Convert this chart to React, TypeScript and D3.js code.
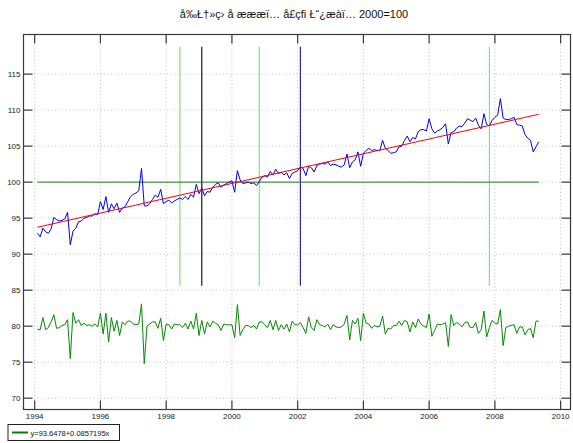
import React from "react";
import * as d3 from "d3";

const titleText = "å‰Ł†»ç› å æææï… å£çﬁ Ł“¿æàï… 2000=100";
const legendLabel = "y=93.6478+0.0857195x";
const trendIntercept = 93.6478;
const trendSlope = 0.0857195;
const startYear = 1994;
const startMonth = 1; // first observation: Feb 1994 (months after January)

const xTicks = [1994, 1996, 1998, 2000, 2002, 2004, 2006, 2008, 2010];
const yTicks = [70, 75, 80, 85, 90, 95, 100, 105, 110, 115];

// Index series (blue), monthly
const indexValues = [
  92.9, 92.4, 93.6, 93.1, 92.9, 93.5, 95.1, 94.8, 94.6, 94.7, 94.9, 95.8,
  91.3, 93.2, 93.6, 94.5, 94.6, 95.0, 95.1, 95.3, 95.3, 95.6, 95.5, 97.3,
  96.2, 98.0, 95.8, 97.0, 96.3, 97.1, 95.8, 96.4, 96.6, 97.3, 98.0, 98.3,
  98.5, 98.8, 101.9, 96.7, 96.7, 97.0, 97.6, 98.2, 97.9, 99.0, 97.0, 97.3,
  97.5, 97.1, 97.4, 97.6, 97.8, 97.6, 98.0, 97.6, 98.3, 97.9, 99.7, 98.4,
  99.2, 98.1, 98.7, 98.6, 99.3, 99.7, 99.9, 99.3, 99.6, 99.8, 100.0, 100.2,
  98.6, 101.6, 100.3, 99.8, 99.9, 100.0, 99.8, 99.9, 99.5, 100.1, 100.7, 100.9,
  100.7, 101.5, 101.0, 101.8, 101.2, 101.4, 101.0, 101.3, 100.5, 101.2, 101.4, 101.6,
  102.1, 101.9, 100.9, 102.2, 102.0, 101.4, 102.3, 102.5, 102.6, 102.5, 102.8, 102.3,
  102.5, 102.4, 102.2, 102.1, 102.4, 103.9, 102.0, 102.8, 103.1, 104.2, 102.2, 104.0,
  104.4, 104.7, 104.4, 104.5, 104.4, 104.4, 105.8, 104.7, 104.4, 104.0, 104.1, 104.2,
  104.9, 105.0, 105.8, 106.4, 105.6, 106.2, 106.0, 107.0, 107.3, 107.3, 107.1, 108.8,
  107.4, 106.8, 107.1, 107.3, 107.6, 108.1, 105.3, 106.9, 107.0, 107.5, 107.8, 107.7,
  108.2, 108.8, 108.6, 108.4, 108.9, 107.9, 107.4, 109.5, 108.0, 107.8, 108.6, 109.0,
  109.3, 111.6, 108.9, 108.7, 108.7, 108.8, 109.0, 108.0, 107.9, 107.8, 106.6, 106.1,
  105.8, 104.2, 104.9, 105.6,
];

// Month-to-month change shifted to 80 (green)
const changeValues = [
  79.6, 79.5, 81.2, 79.5, 79.8, 80.6, 81.6, 79.7, 79.8, 80.1, 80.2, 80.9,
  75.5, 81.9, 80.4, 80.9, 80.1, 80.4, 80.1, 80.2, 80.0, 80.3, 79.9, 81.8,
  78.9, 81.8, 77.8, 81.2, 79.3, 80.8, 78.7, 80.6, 80.2, 80.7, 80.7, 80.3,
  80.2, 80.3, 83.1, 74.8, 80.0, 80.3, 80.6, 80.6, 79.7, 81.1, 78.0, 80.3,
  80.2, 79.6, 80.3, 80.2, 80.2, 79.8, 80.4, 79.6, 80.7, 79.6, 81.8, 78.7,
  80.8, 78.9, 80.6, 79.9, 80.7, 80.4, 80.2, 79.4, 80.3, 80.2, 80.2, 80.2,
  78.4, 83.0, 78.7, 79.5, 80.1, 80.1, 79.8, 80.1, 79.6, 80.6, 80.6, 80.2,
  79.8, 80.8, 79.5, 80.8, 79.4, 80.2, 79.6, 80.3, 79.2, 80.7, 80.2, 80.2,
  80.5, 79.8, 79.0, 81.3, 79.8, 79.4, 80.9, 80.2, 80.1, 79.9, 80.3, 79.5,
  80.2, 79.9, 79.8, 79.9, 80.3, 81.5, 78.1, 80.8, 80.3, 81.1, 78.0, 81.8,
  80.4, 80.3, 79.7, 80.1, 79.9, 80.0, 81.4, 78.9, 79.7, 79.6, 80.1, 80.1,
  80.7, 80.1, 80.8, 80.6, 79.2, 80.6, 79.8, 81.0, 80.3, 80.0, 79.8, 81.7,
  78.6, 79.4, 80.3, 80.2, 80.3, 80.5, 77.2, 81.6, 80.1, 80.5, 80.3, 79.9,
  80.5, 80.6, 79.8, 79.8, 80.5, 79.0, 79.5, 82.1, 78.5, 79.8, 80.8, 80.4,
  80.3, 82.3, 77.3, 79.8, 80.0, 80.1, 80.2, 79.0, 79.9, 79.9, 78.8, 79.5,
  79.7, 78.4, 80.7, 80.7,
];

const baseLevel = 100;
const eventDates = [1998.417, 1999.083, 2000.833, 2002.083, 2007.833];
const eventColors = ["#74ec74", "#14143a", "#74ec74", "#2626a6", "#74ec74"];
const eventRange = [85.6, 118.8];

const W = 573;
const H = 443;
const M = { left: 23.5, right: 570.5, top: 34.5, bottom: 409.5 };
const FONT = "'Liberation Sans', Arial, sans-serif";

export default function App() {
  const x = d3.scaleLinear().domain([1993.66, 2010.3]).range([M.left, M.right]);
  const y = d3.scaleLinear().domain([68.43, 120.5]).range([M.bottom, M.top]);
  const t = (i: number) => startYear + (startMonth + i) / 12;

  const line = d3
    .line<number>()
    .x((_, i) => x(t(i)))
    .y((d) => y(d));

  const n = indexValues.length;
  const trend = d3
    .line<number>()
    .x((i) => x(t(i)))
    .y((i) => y(trendIntercept + trendSlope * (i + 1)));

  const gridColor = "#c4c4c4";
  const frameColor = "#3a3a3a";
  const tickLen = 9;

  return (
    <svg
      width={W}
      height={H}
      style={{ position: "fixed", left: 0, top: 0, background: "#fff" }}
      fontFamily={FONT}
    >
      <rect x={0} y={0} width={W} height={H} fill="#fff" />
      <text x={294} y={18} textAnchor="middle" fontSize={11} fill="#111">
        {titleText}
      </text>

      {/* grid */}
      {xTicks.map((v) => (
        <line
          key={"gx" + v}
          x1={x(v)}
          x2={x(v)}
          y1={M.top}
          y2={M.bottom}
          stroke={gridColor}
          strokeWidth={1}
          strokeDasharray="1,2.5"
        />
      ))}
      {yTicks.map((v) => (
        <line
          key={"gy" + v}
          x1={M.left}
          x2={M.right}
          y1={y(v)}
          y2={y(v)}
          stroke={gridColor}
          strokeWidth={1}
          strokeDasharray="1,2.5"
        />
      ))}

      {/* event lines */}
      {eventDates.map((d, k) => (
        <line
          key={"ev" + k}
          x1={x(d)}
          x2={x(d)}
          y1={y(eventRange[0])}
          y2={y(eventRange[1])}
          stroke={eventColors[k]}
          strokeWidth={1.2}
        />
      ))}

      {/* base line at 100 */}
      <line
        x1={x(t(0))}
        x2={x(t(n - 1))}
        y1={y(baseLevel)}
        y2={y(baseLevel)}
        stroke="#1f7a1f"
        strokeWidth={1}
      />

      {/* change series */}
      <path d={line(changeValues) || ""} fill="none" stroke="#058a05" strokeWidth={1} />

      {/* index series */}
      <path d={line(indexValues) || ""} fill="none" stroke="#0000ff" strokeWidth={1} />

      {/* trend */}
      <path d={trend([0, n - 1]) || ""} fill="none" stroke="#ff0000" strokeWidth={1} />

      {/* frame */}
      <rect
        x={M.left}
        y={M.top}
        width={M.right - M.left}
        height={M.bottom - M.top}
        fill="none"
        stroke={frameColor}
        strokeWidth={1.2}
      />

      {/* ticks */}
      {xTicks.map((v) => (
        <g key={"tx" + v}>
          <line x1={x(v)} x2={x(v)} y1={M.bottom} y2={M.bottom - tickLen} stroke={frameColor} strokeWidth={1.2} />
          <line x1={x(v)} x2={x(v)} y1={M.top} y2={M.top + tickLen} stroke={frameColor} strokeWidth={1.2} />
          <text x={x(v)} y={M.bottom + 9.5} textAnchor="middle" fontSize={8} fill="#222">
            {v}
          </text>
        </g>
      ))}
      {yTicks.map((v) => (
        <g key={"ty" + v}>
          <line x1={M.left} x2={M.left + tickLen} y1={y(v)} y2={y(v)} stroke={frameColor} strokeWidth={1.2} />
          <line x1={M.right} x2={M.right - tickLen} y1={y(v)} y2={y(v)} stroke={frameColor} strokeWidth={1.2} />
          <text x={M.left - 3} y={y(v) + 3} textAnchor="end" fontSize={8} fill="#222">
            {v}
          </text>
        </g>
      ))}

      {/* legend */}
      <rect x={8} y={424.5} width={111.5} height={16} fill="#fff" stroke="#222" strokeWidth={1} />
      <line x1={12} x2={28} y1={432.5} y2={432.5} stroke="#008000" strokeWidth={2} />
      <text x={30.5} y={435.5} fontSize={7.5} fill="#111">
        {legendLabel}
      </text>
    </svg>
  );
}
